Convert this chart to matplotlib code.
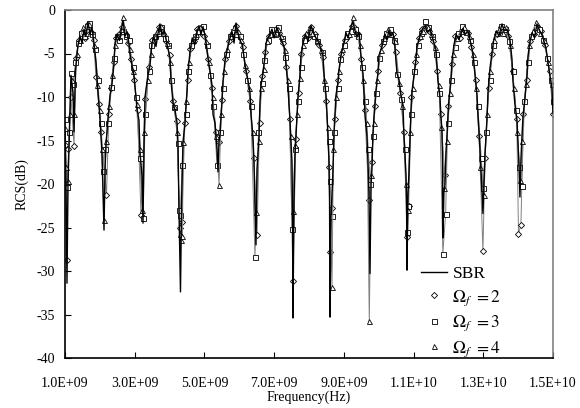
import numpy as np
import matplotlib
matplotlib.use("Agg")
import matplotlib.pyplot as plt
from matplotlib.lines import Line2D
from matplotlib.ticker import FuncFormatter, MultipleLocator

plt.rcParams['font.family'] = ['Liberation Serif', 'DejaVu Serif']
plt.rcParams['mathtext.fontset'] = 'stix'

# ---------------- data (frequency in GHz, RCS in dB) ----------------
sbr_f = [1.000, 1.030, 1.057, 1.086, 1.143, 1.172, 1.229, 1.258, 1.300, 1.373, 1.430, 1.490, 1.545, 1.600,
         1.660, 1.720, 1.775, 1.830, 1.889, 1.947, 2.004, 2.061, 2.090, 2.119, 2.150, 2.176, 2.234, 2.291,
         2.348, 2.406, 2.434, 2.490, 2.560, 2.620, 2.664, 2.720, 2.780, 2.840, 2.880, 2.979, 3.065, 3.123,
         3.151, 3.209, 3.238, 3.265, 3.295, 3.380, 3.438, 3.496, 3.550, 3.610, 3.680, 3.725, 3.780, 3.850,
         3.930, 4.012, 4.041, 4.098, 4.156, 4.213, 4.242, 4.270, 4.313, 4.345, 4.385, 4.442, 4.471, 4.500,
         4.528, 4.586, 4.650, 4.720, 4.790, 4.844, 4.900, 4.959, 5.030, 5.102, 5.217, 5.246, 5.303, 5.360,
         5.389, 5.420, 5.446, 5.504, 5.532, 5.590, 5.647, 5.720, 5.790, 5.850, 5.905, 5.960, 6.020, 6.090,
         6.164, 6.250, 6.307, 6.336, 6.393, 6.422, 6.450, 6.479, 6.508, 6.565, 6.594, 6.623, 6.680, 6.737,
         6.766, 6.850, 6.938, 7.000, 7.081, 7.150, 7.225, 7.300, 7.340, 7.397, 7.426, 7.454, 7.483, 7.512,
         7.530, 7.540, 7.570, 7.598, 7.627, 7.684, 7.741, 7.770, 7.827, 7.900, 7.971, 8.057, 8.120, 8.200,
         8.286, 8.401, 8.430, 8.487, 8.516, 8.545, 8.573, 8.590, 8.602, 8.630, 8.688, 8.717, 8.745, 8.774,
         8.831, 8.860, 8.917, 9.003, 9.060, 9.117, 9.200, 9.261, 9.320, 9.376, 9.440, 9.491, 9.548, 9.577,
         9.606, 9.663, 9.692, 9.720, 9.749, 9.780, 9.806, 9.835, 9.864, 9.893, 9.921, 9.979, 10.007, 10.094,
         10.180, 10.240, 10.294, 10.350, 10.409, 10.460, 10.524, 10.581, 10.639, 10.696, 10.725, 10.782,
         10.800, 10.811, 10.840, 10.868, 10.897, 10.925, 10.954, 11.011, 11.069, 11.098, 11.184, 11.250,
         11.327, 11.400, 11.471, 11.557, 11.643, 11.671, 11.700, 11.757, 11.786, 11.815, 11.830, 11.843,
         11.870, 11.901, 11.929, 11.958, 11.987, 12.015, 12.073, 12.101, 12.159, 12.220, 12.300, 12.417,
         12.480, 12.560, 12.640, 12.704, 12.761, 12.820, 12.847, 12.904, 12.933, 12.962, 12.990, 13.019,
         13.048, 13.105, 13.134, 13.191, 13.249, 13.300, 13.380, 13.450, 13.535, 13.600, 13.680, 13.765,
         13.822, 13.851, 13.909, 13.966, 13.995, 14.023, 14.052, 14.081, 14.110, 14.138, 14.196, 14.253,
         14.282, 14.340, 14.400, 14.470, 14.540, 14.620, 14.700, 14.799, 14.913, 14.970, 15.000]
sbr_db = [-14.0, -20.0, -31.4, -20.0, -12.0, -7.5, -9.5, -14.0, -7.0, -4.0, -3.0, -3.8, -2.2, -3.0,
          -1.4, -2.8, -2.0, -3.8, -6.0, -9.5, -12.5, -16.5, -21.0, -25.3, -18.0, -15.5, -12.5, -9.8,
          -8.5, -6.2, -3.8, -2.8, -3.5, -2.2, -1.2, -3.0, -2.5, -4.0, -5.5, -7.5, -11.3, -12.7,
          -16.4, -19.0, -24.5, -16.0, -10.0, -7.5, -6.4, -3.8, -3.0, -4.2, -2.4, -1.6, -2.8, -2.4,
          -4.0, -5.5, -8.1, -10.7, -11.5, -12.9, -15.3, -23.0, -32.4, -22.0, -15.2, -13.0, -11.0, -9.4,
          -7.1, -4.8, -3.2, -4.0, -2.5, -1.8, -2.8, -1.9, -3.2, -5.5, -8.6, -12.0, -13.0, -16.0,
          -18.6, -15.0, -14.4, -10.5, -8.2, -5.8, -4.7, -3.4, -2.5, -3.8, -1.5, -2.6, -3.5, -4.0,
          -6.3, -8.1, -9.4, -12.0, -14.7, -17.4, -22.7, -27.0, -18.3, -14.7, -10.5, -8.6, -7.2, -5.3,
          -3.8, -3.0, -2.2, -3.2, -2.0, -2.8, -3.6, -4.4, -6.3, -8.6, -10.9, -12.6, -15.2, -17.4,
          -24.8, -35.4, -22.0, -16.7, -14.5, -10.0, -7.6, -5.2, -3.8, -2.8, -3.6, -1.8, -2.6, -3.2,
          -3.8, -5.2, -7.3, -9.8, -12.0, -14.5, -17.4, -22.0, -35.3, -24.0, -18.4, -14.1, -12.0, -9.8,
          -8.3, -6.9, -5.2, -3.8, -2.6, -3.2, -2.0, -1.3, -2.4, -3.0, -2.6, -5.3, -7.3, -9.4,
          -12.0, -14.5, -17.4, -21.0, -30.3, -20.0, -18.4, -14.1, -12.3, -10.8, -9.3, -7.2, -5.2, -4.2,
          -2.8, -3.4, -2.3, -3.0, -2.6, -4.0, -7.3, -8.0, -9.8, -10.9, -14.5, -18.8,
          -21.8, -29.9, -21.0, -18.8, -14.9, -11.6, -9.4, -7.6, -5.7, -4.2, -3.0, -2.2,
          -1.8, -2.6, -2.2, -3.4, -4.6, -6.4, -8.2, -10.0, -12.3, -13.8, -17.5, -26.2,
          -21.0, -20.1, -16.4, -14.6, -12.1, -10.3, -8.1, -5.9, -4.0, -2.8, -3.4, -2.1,
          -2.8, -2.4, -3.8, -5.0, -7.3, -9.8, -11.9, -15.9, -18.5, -20.7, -23.4, -20.0,
          -16.6, -12.7, -9.5, -6.7, -4.9, -3.4, -2.4, -3.0, -1.6, -2.4, -2.2, -3.4,
          -5.6, -8.2, -10.9, -12.6, -15.3, -17.8, -21.5, -17.1, -14.5, -12.3, -10.1, -7.6,
          -5.3, -3.6, -2.6, -3.2, -1.6, -2.4, -3.0, -4.4, -7.6, -9.0, -11.9]

om2_f = [1.000, 1.050, 1.100, 1.172, 1.258, 1.316, 1.400, 1.500, 1.580, 1.660, 1.740, 1.820, 1.889, 1.970,
         2.040, 2.190, 2.260, 2.330, 2.400, 2.460, 2.550, 2.640, 2.720, 2.800, 2.880, 2.980, 3.080, 3.180,
         3.300, 3.400, 3.500, 3.600, 3.700, 3.800, 3.900, 4.000, 4.100, 4.200, 4.300, 4.350, 4.440, 4.520,
         4.600, 4.700, 4.800, 4.900, 5.000, 5.100, 5.220, 5.330, 5.420, 5.500, 5.600, 5.700, 5.800, 5.900,
         6.000, 6.100, 6.200, 6.320, 6.420, 6.510, 6.580, 6.660, 6.750, 6.850, 6.950, 7.050, 7.150, 7.250,
         7.350, 7.450, 7.540, 7.620, 7.700, 7.780, 7.880, 7.980, 8.060, 8.160, 8.280, 8.400, 8.500, 8.580,
         8.600, 8.660, 8.740, 8.840, 8.920, 9.020, 9.120, 9.220, 9.300, 9.400, 9.500, 9.600, 9.720, 9.800,
         9.880, 9.980, 10.100, 10.200, 10.300, 10.400, 10.500, 10.620, 10.720, 10.820, 10.860, 10.940,
         11.050, 11.150, 11.250, 11.350, 11.450, 11.550, 11.680, 11.780, 11.900, 12.000, 12.100, 12.200,
         12.320, 12.420, 12.550, 12.660, 12.780, 12.880, 12.990, 13.050, 13.150, 13.260, 13.380, 13.500,
         13.600, 13.720, 13.840, 13.960, 14.010, 14.080, 14.150, 14.250, 14.350, 14.450, 14.550, 14.650,
         14.780, 14.900, 15.000]
om2_db = [-15.5, -28.7, -16.0, -10.0, -15.6, -5.5, -3.5, -2.5, -3.2, -1.6, -2.5, -3.5, -7.7, -10.8,
          -14.0, -21.3, -12.0, -9.0, -6.0, -3.2, -2.8, -2.0, -2.6, -3.8, -5.6, -8.0, -11.5, -23.6,
          -10.2, -6.5, -3.5, -3.0, -2.0, -2.8, -3.6, -5.2, -10.5, -12.8, -25.0, -24.4, -13.0, -8.0,
          -4.5, -3.6, -2.2, -2.6, -3.0, -5.6, -9.0, -14.0, -15.2, -10.4, -5.6, -3.6, -2.8, -1.8,
          -3.0, -4.2, -7.0, -10.5, -17.0, -25.9, -13.0, -7.6, -4.8, -3.0, -2.4, -2.2, -2.6, -3.8,
          -6.5, -12.5, -31.2, -14.8, -9.5, -5.0, -3.0, -3.2, -2.0, -2.8, -4.0, -5.4, -10.5, -18.0,
          -27.8, -22.8, -12.5, -8.0, -5.0, -3.4, -3.0, -1.8, -2.0, -2.8, -5.6, -11.5, -21.8, -17.5,
          -11.0, -7.0, -4.0, -3.0, -2.4, -2.8, -4.8, -9.5, -14.0, -26.1, -22.5, -10.0,
          -6.0, -3.2, -2.2, -2.0, -2.4, -3.6, -7.0, -12.0, -19.0, -11.0, -6.2, -3.0,
          -3.2, -2.2, -2.6, -4.2, -8.0, -14.5, -27.7, -17.0, -9.0, -5.0, -2.8, -2.0,
          -2.6, -3.0, -7.0, -12.5, -25.7, -24.7, -12.0, -8.0, -3.6, -2.8, -1.8, -2.4,
          -4.0, -7.0, -12.0]

om3_f = [1.000, 1.040, 1.070, 1.120, 1.172, 1.230, 1.300, 1.380, 1.460, 1.540, 1.620, 1.700, 1.780, 1.860,
         1.940, 2.020, 2.080, 2.150, 2.240, 2.320, 2.400, 2.480, 2.560, 2.660, 2.740, 2.840, 2.940, 3.040,
         3.140, 3.240, 3.300, 3.400, 3.480, 3.580, 3.660, 3.760, 3.860, 3.960, 4.040, 4.140, 4.240, 4.270,
         4.310, 4.360, 4.460, 4.540, 4.620, 4.720, 4.820, 4.960, 5.060, 5.160, 5.260, 5.360, 5.440, 5.520,
         5.620, 5.720, 5.820, 5.920, 6.020, 6.120, 6.220, 6.330, 6.450, 6.550, 6.640, 6.720, 6.820, 6.920,
         7.020, 7.120, 7.220, 7.320, 7.420, 7.520, 7.600, 7.680, 7.760, 7.860, 7.960, 8.040, 8.140, 8.240,
         8.360, 8.460, 8.560, 8.600, 8.660, 8.720, 8.820, 8.900, 9.000, 9.100, 9.200, 9.320, 9.420, 9.520,
         9.620, 9.700, 9.760, 9.840, 9.920, 10.020, 10.120, 10.220, 10.320, 10.440, 10.530, 10.640, 10.760,
         10.800, 10.840, 10.920, 11.020, 11.120, 11.220, 11.320, 11.420, 11.520, 11.640, 11.740, 11.840,
         11.920, 11.980, 12.080, 12.180, 12.280, 12.400, 12.500, 12.620, 12.740, 12.840, 12.940, 13.000,
         13.080, 13.180, 13.280, 13.400, 13.520, 13.620, 13.740, 13.840, 13.940, 14.020, 14.100, 14.180,
         14.280, 14.380, 14.500, 14.600, 14.720, 14.840, 14.940, 15.000]
om3_db = [-12.5, -20.0, -20.3, -14.0, -7.2, -8.5, -6.0, -3.8, -2.6, -3.0, -1.8, -1.5, -2.8, -4.5,
          -8.0, -13.0, -18.5, -16.0, -13.0, -8.8, -5.5, -3.0, -3.4, -2.4, -3.0, -3.5, -6.5, -10.0,
          -17.0, -23.9, -12.0, -7.0, -4.0, -3.0, -2.6, -2.0, -3.2, -4.0, -8.1, -11.2, -15.3, -23.0,
          -23.6, -17.8, -12.0, -7.0, -4.0, -3.0, -2.4, -1.8, -4.0, -7.5, -11.0, -17.8, -14.0, -9.0,
          -5.0, -3.0, -2.4, -2.8, -3.0, -5.0, -8.0, -11.0, -28.4, -14.0, -8.4, -5.8, -3.4, -2.2,
          -2.8, -2.0, -3.2, -5.4, -9.0, -25.2, -16.0, -10.5, -6.5, -3.5, -2.8, -2.4, -3.0, -3.6,
          -4.8, -9.0, -15.0, -19.7, -23.7, -14.0, -9.0, -5.6, -4.0, -2.6, -2.4, -2.2, -3.0, -6.5,
          -10.5, -16.0, -20.0, -14.5, -9.5, -5.5, -3.6, -2.6, -2.2, -3.4, -7.3, -10.2, -16.0,
          -25.5, -22.5, -12.0, -7.0, -4.0, -2.6, -1.3, -2.0, -3.0, -5.0, -9.5, -28.0,
          -23.4, -13.0, -8.0, -4.2, -2.6, -1.8, -2.5, -3.5, -6.0, -11.0, -17.0, -20.5,
          -14.0, -8.0, -4.0, -2.6, -1.8, -2.2, -3.6, -7.0, -11.5, -18.0, -20.2, -10.5,
          -6.0, -3.0, -2.0, -2.2, -3.4, -5.5, -8.0, -10.5]

om4_f = [1.000, 1.030, 1.080, 1.140, 1.200, 1.270, 1.330, 1.420, 1.520, 1.600, 1.680, 1.760, 1.840, 1.920,
         2.000, 2.060, 2.120, 2.180, 2.270, 2.360, 2.440, 2.520, 2.600, 2.660, 2.760, 2.860, 2.960, 3.060,
         3.160, 3.220, 3.280, 3.380, 3.460, 3.540, 3.640, 3.740, 3.840, 3.940, 4.020, 4.120, 4.220, 4.290,
         4.330, 4.370, 4.390, 4.480, 4.560, 4.660, 4.760, 4.860, 4.940, 5.040, 5.140, 5.240, 5.340, 5.420,
         5.480, 5.560, 5.660, 5.760, 5.860, 5.960, 6.060, 6.160, 6.280, 6.380, 6.480, 6.560, 6.620, 6.700,
         6.800, 6.900, 7.000, 7.100, 7.200, 7.300, 7.400, 7.480, 7.540, 7.600, 7.660, 7.740, 7.820, 7.920,
         8.020, 8.100, 8.220, 8.340, 8.440, 8.540, 8.660, 8.700, 8.780, 8.860, 8.960, 9.060, 9.160, 9.260,
         9.360, 9.460, 9.560, 9.660, 9.730, 9.780, 9.860, 9.960, 10.060, 10.160, 10.260, 10.360, 10.460,
         10.580, 10.680, 10.780, 10.830, 10.900, 10.980, 11.080, 11.180, 11.280, 11.400, 11.500, 11.620,
         11.720, 11.800, 11.880, 11.960, 12.040, 12.140, 12.240, 12.360, 12.460, 12.580, 12.700, 12.800,
         12.920, 13.020, 13.100, 13.200, 13.320, 13.440, 13.560, 13.660, 13.780, 13.880, 13.980, 14.060,
         14.120, 14.220, 14.320, 14.420, 14.520, 14.620, 14.740, 14.860, 14.960]
om4_db = [-13.6, -18.0, -19.7, -12.0, -8.0, -12.0, -5.0, -3.4, -2.0, -2.6, -1.6, -2.4, -4.0, -8.6,
          -11.5, -16.0, -24.1, -15.0, -11.0, -7.5, -4.0, -3.0, -2.2, -0.8, -2.8, -4.5, -7.0, -10.8,
          -16.0, -23.0, -14.0, -8.0, -5.0, -3.0, -2.4, -1.8, -2.6, -3.8, -6.0, -11.0, -14.0, -25.7,
          -26.4, -26.0, -15.2, -10.5, -6.0, -3.5, -2.8, -2.0, -2.4, -3.6, -6.0, -10.0, -14.5, -20.1,
          -12.0, -7.0, -4.5, -2.6, -2.0, -2.4, -3.4, -6.3, -9.0, -14.0, -23.2, -15.0, -9.0, -6.8,
          -3.6, -2.8, -2.6, -2.2, -3.0, -4.6, -8.0, -14.5, -23.1, -15.5, -12.0, -7.8, -4.0, -2.6,
          -2.0, -2.6, -3.4, -4.6, -8.0, -13.5, -31.8, -16.0, -10.0, -7.0, -4.5, -3.0, -2.8, -0.8,
          -2.6, -4.0, -8.0, -13.0, -35.8, -19.0, -13.0, -8.0, -4.6, -3.2, -2.2, -2.8, -3.6,
          -8.4, -11.0, -20.0, -23.0, -14.0, -9.0, -5.0, -3.0, -2.4, -2.0, -2.8, -4.2,
          -8.6, -13.5, -20.5, -15.0, -9.5, -5.0, -3.2, -2.4, -2.0, -3.0, -5.0, -9.0,
          -18.0, -21.3, -12.0, -7.0, -3.4, -2.2, -2.6, -2.0, -4.0, -9.0, -14.0, -19.5,
          -15.0, -8.5, -4.0, -2.4, -1.4, -2.6, -3.4, -6.0, -8.5]

legend_labels = ['SBR', r'$\Omega_f\ = 2$', r'$\Omega_f\ = 3$', r'$\Omega_f\ = 4$']
x_ticks_ghz = [1, 3, 5, 7, 9, 11, 13, 15]

# ---------------- figure ----------------
fig = plt.figure(figsize=(5.8, 4.08), dpi=100)
ax = fig.add_axes([65 / 580, 1 - 358 / 408, 488 / 580, 348 / 408])

GHZ = 1e9
mk = dict(markersize=3.6, markerfacecolor='white', markeredgecolor='black', markeredgewidth=0.6)
mkd = {**mk, 'markersize': 3.1}
ax.plot(np.array(om2_f) * GHZ, om2_db, color='#808080', lw=0.7, marker='D', zorder=2, **mkd)
ax.plot(np.array(om3_f) * GHZ, om3_db, color='#808080', lw=0.7, marker='s', zorder=2, **mk)
ax.plot(np.array(om4_f) * GHZ, om4_db, color='#808080', lw=0.7, marker='^', zorder=2, **mk)
ax.plot(np.array(sbr_f) * GHZ, sbr_db, color='black', lw=1.0, zorder=3)

ax.set_xlim(1e9, 1.5e10)
ax.set_ylim(-40, 0)
ax.set_xticks(np.array(x_ticks_ghz) * GHZ)
ax.xaxis.set_major_formatter(FuncFormatter(lambda v, p: f"{v:.1E}"))
ax.yaxis.set_major_locator(MultipleLocator(5))
ax.yaxis.set_major_formatter(FuncFormatter(lambda v, p: f"{int(round(v))}"))
ax.tick_params(axis='both', direction='in', length=4, width=0.8, labelsize=10, colors='black')
ax.tick_params(axis='x', pad=14)
ax.tick_params(axis='y', pad=7)

for side in ['left', 'bottom']:
    ax.spines[side].set_color('black')
    ax.spines[side].set_linewidth(1.2)
for side in ['top', 'right']:
    ax.spines[side].set_color('#808080')
    ax.spines[side].set_linewidth(1.2)

ax.set_xlabel('Frequency(Hz)', fontsize=10, labelpad=0)
ax.set_ylabel('RCS(dB)', fontsize=10, labelpad=6)

handles = [
    Line2D([], [], color='black', lw=1.0),
    Line2D([], [], ls='none', marker='D', **mkd),
    Line2D([], [], ls='none', marker='s', **mk),
    Line2D([], [], ls='none', marker='^', **mk),
]
leg = ax.legend(handles, legend_labels, loc='upper left', bbox_to_anchor=(0.73, 0.265),
                frameon=False, fontsize=12.5, handlelength=1.5, handletextpad=0.3,
                labelspacing=0.35, borderaxespad=0, borderpad=0)

fig.savefig('out.png', dpi=100)
